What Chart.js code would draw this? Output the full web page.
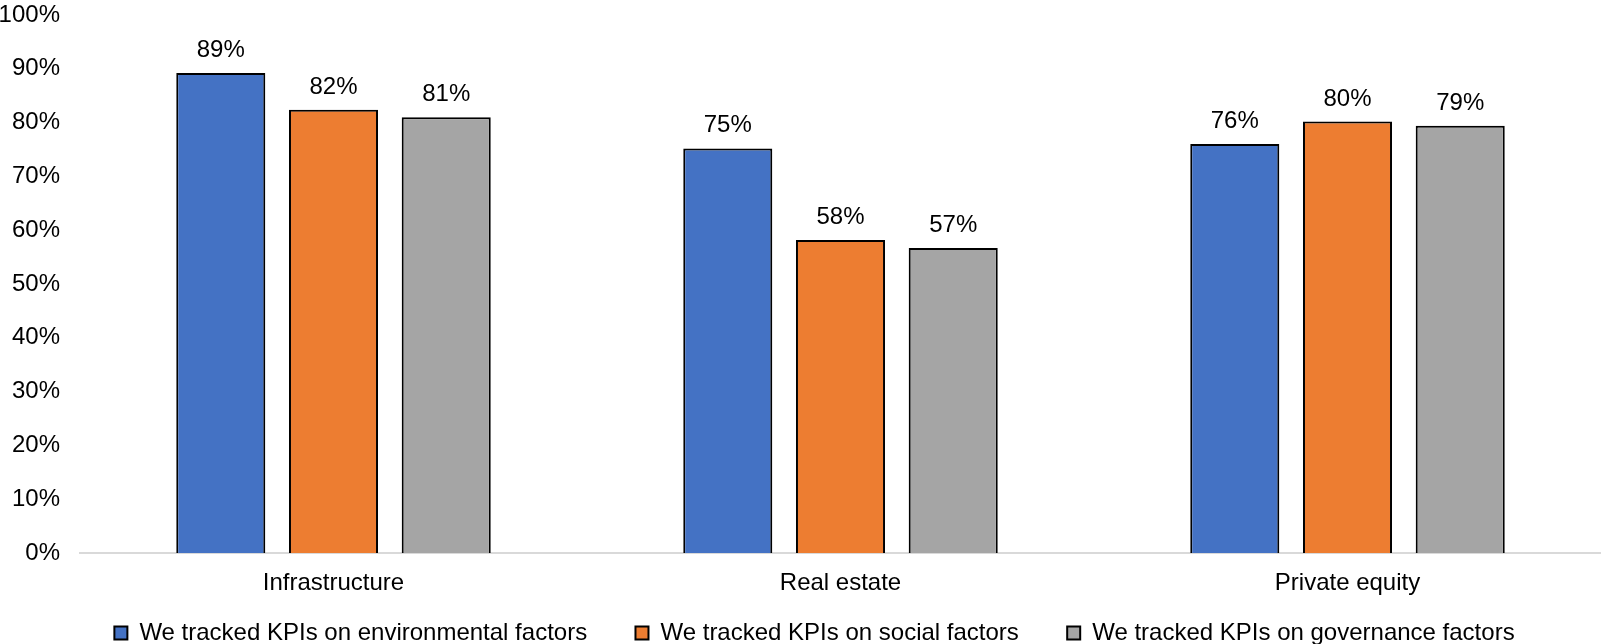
<!DOCTYPE html>
<html>
<head>
<meta charset="utf-8">
<script src="https://cdn.jsdelivr.net/npm/chart.js@4/dist/chart.umd.min.js"></script>
<style>
  html, body { margin: 0; padding: 0; background: #fff; }
  #wrap { width: 1601px; height: 644px; }
</style>
</head>
<body>
<div id="wrap"><canvas id="kpiChart" width="1601" height="644"></canvas></div>
<script>
// Chart data
const categories = ['Infrastructure', 'Real estate', 'Private equity'];
const seriesNames = [
  'We tracked KPIs on environmental factors',
  'We tracked KPIs on social factors',
  'We tracked KPIs on governance factors'
];
const environmental = [89.2, 75.2, 76.0];
const social = [82.4, 58.2, 80.2];
const governance = [81.0, 56.7, 79.4];
const yTicks = [0, 10, 20, 30, 40, 50, 60, 70, 80, 90, 100];

const colors = ['#4472C4', '#ED7D31', '#A5A5A5'];
const FONT = "'Liberation Sans', Arial, sans-serif";
const FONT_SIZE = 24;

// Value labels above each bar
const barLabelsPlugin = {
  id: 'barLabels',
  afterDatasetsDraw: function(chart) {
    const ctx = chart.ctx;
    ctx.save();
    ctx.font = FONT_SIZE + 'px ' + FONT;
    ctx.fillStyle = '#000';
    ctx.textAlign = 'center';
    ctx.textBaseline = 'alphabetic';
    chart.data.datasets.forEach((dataset, i) => {
      const meta = chart.getDatasetMeta(i);
      meta.data.forEach((bar, index) => {
        const value = dataset.data[index];
        ctx.fillText(Math.round(value) + '%', bar.x, bar.y - 16);
      });
    });
    ctx.restore();
  }
};

// Nudge the legend row to where the reference puts it
const legendShiftPlugin = {
  id: 'legendShift',
  afterLayout: function(chart) {
    const lg = chart.legend;
    if (!lg) return;
    lg.left += 14;
    lg.right += 14;
    lg.top += 3;
    lg.bottom += 3;
  }
};

const seriesData = [environmental, social, governance];

new Chart(document.getElementById('kpiChart').getContext('2d'), {
  type: 'bar',
  data: {
    labels: categories,
    datasets: seriesNames.map((name, i) => ({
      label: name,
      data: seriesData[i],
      backgroundColor: colors[i],
      borderColor: '#000',
      borderWidth: 2,
      borderSkipped: 'bottom',
      categoryPercentage: 0.667,
      barPercentage: 0.79
    }))
  },
  options: {
    responsive: false,
    animation: false,
    layout: { padding: { top: 15, left: 0, right: 0, bottom: -8 } },
    scales: {
      x: {
        grid: { display: false, drawTicks: false },
        border: { display: true, color: '#d9d9d9', width: 2 },
        ticks: { color: '#000', font: { family: FONT, size: FONT_SIZE }, padding: 16 },
        afterFit: function(scale) {
          const legendH = scale.chart.legend ? scale.chart.legend.height : 0;
          scale.height = 644 + 8 - legendH - 553;
          scale.paddingLeft = 0;
          scale.paddingRight = 0;
        }
      },
      y: {
        min: yTicks[0],
        max: yTicks[yTicks.length - 1],
        grid: { display: false, drawTicks: false },
        border: { display: false },
        ticks: {
          stepSize: yTicks[1] - yTicks[0],
          color: '#000',
          font: { family: FONT, size: FONT_SIZE },
          padding: 20,
          callback: function(v) { return v + '%'; }
        },
        afterFit: function(scale) {
          scale.width = 80;
          scale.paddingTop = 0;
          scale.paddingBottom = 0;
        }
      }
    },
    plugins: {
      legend: {
        display: true,
        position: 'bottom',
        labels: {
          color: '#000',
          font: { family: FONT, size: FONT_SIZE },
          boxWidth: 13,
          boxHeight: 13,
          padding: 15,
          generateLabels: function(chart) {
            const items = Chart.defaults.plugins.legend.labels.generateLabels(chart);
            items.forEach((it, i) => {
              if (i < items.length - 1) it.text = it.text + '     ';
            });
            return items;
          }
        }
      },
      tooltip: { enabled: false }
    }
  },
  plugins: [barLabelsPlugin, legendShiftPlugin]
});
</script>
</body>
</html>
